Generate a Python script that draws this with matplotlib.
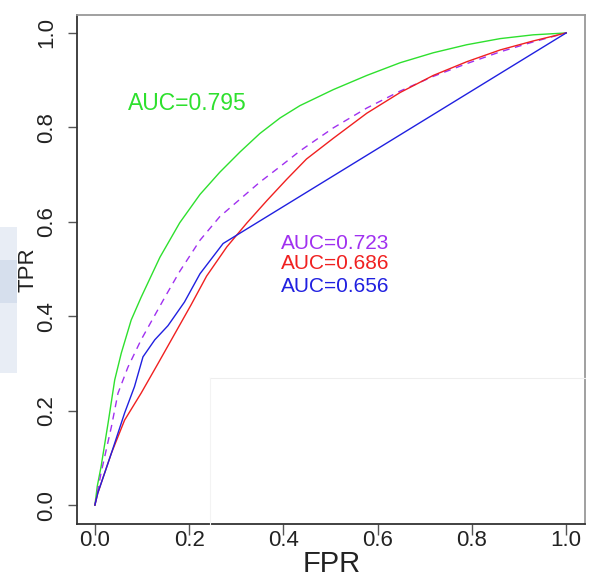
import matplotlib
matplotlib.use('Agg')
import matplotlib.pyplot as plt
from matplotlib.lines import Line2D
from matplotlib.patches import Rectangle

plt.rcParams['font.family'] = ['Liberation Sans', 'DejaVu Sans']

# ROC curves
green_fpr = [0, 0.005, 0.013, 0.028, 0.042, 0.056, 0.077, 0.098, 0.138, 0.18, 0.223, 0.265, 0.308,
             0.35, 0.393, 0.435, 0.506, 0.577, 0.648, 0.718, 0.789, 0.86, 0.93, 1.0]
green_tpr = [0, 0.04, 0.081, 0.174, 0.265, 0.322, 0.392, 0.440, 0.525, 0.598, 0.658, 0.705, 0.748,
             0.787, 0.82, 0.846, 0.880, 0.910, 0.937, 0.958, 0.975, 0.988, 0.996, 1.0]

purple_fpr = [0, 0.013, 0.035, 0.049, 0.07, 0.098, 0.127, 0.15, 0.18, 0.223, 0.265, 0.308, 0.35,
              0.393, 0.435, 0.506, 0.577, 0.648, 0.718, 0.789, 0.86, 0.93, 1.0]
purple_tpr = [0, 0.068, 0.166, 0.237, 0.292, 0.35, 0.402, 0.443, 0.495, 0.561, 0.611, 0.648, 0.684,
              0.717, 0.750, 0.799, 0.841, 0.877, 0.908, 0.935, 0.96, 0.981, 1.0]

red_fpr = [0, 0.006, 0.035, 0.063, 0.098, 0.134, 0.169, 0.204, 0.237, 0.28, 0.322, 0.365, 0.407,
           0.449, 0.506, 0.577, 0.648, 0.718, 0.789, 0.86, 0.93, 1.0]
red_tpr = [0, 0.025, 0.11, 0.18, 0.237, 0.300, 0.362, 0.424, 0.485, 0.547, 0.597, 0.645, 0.690,
           0.733, 0.777, 0.830, 0.874, 0.910, 0.939, 0.964, 0.983, 1.0]

blue_fpr = [0, 0.006, 0.035, 0.063, 0.084, 0.102, 0.127, 0.155, 0.19, 0.223, 0.272, 1.0]
blue_tpr = [0, 0.025, 0.11, 0.195, 0.251, 0.314, 0.35, 0.38, 0.43, 0.49, 0.554, 1.0]

auc_labels = ['AUC=0.795', 'AUC=0.723', 'AUC=0.686', 'AUC=0.656']
ticks = [0.0, 0.2, 0.4, 0.6, 0.8, 1.0]
tick_labels = ['0.0', '0.2', '0.4', '0.6', '0.8', '1.0']

c_green = '#2ee02e'
c_purple = '#a030f0'
c_red = '#f02020'
c_blue = '#2020e0'

fig = plt.figure(figsize=(5.89, 5.77), dpi=100)
W, H = 589, 577

# faint watermark on the left edge
fig.patches.append(Rectangle((0, 1 - 373 / H), 17 / W, 146 / H, transform=fig.transFigure,
                             facecolor='#e8edf5', edgecolor='none', zorder=0))
fig.patches.append(Rectangle((0, 1 - 303 / H), 17 / W, 43 / H, transform=fig.transFigure,
                             facecolor='#d6dfed', edgecolor='none', zorder=0))

ax = fig.add_axes([77 / W, 1 - 524 / H, 508 / W, 509 / H])
ax.set_xlim(-0.038, 1.040)
ax.set_ylim(-0.040, 1.038)

ax.plot(green_fpr, green_tpr, color=c_green, lw=1.0)
ax.plot(purple_fpr, purple_tpr, color=c_purple, lw=1.0, dashes=(5, 4))
ax.plot(red_fpr, red_tpr, color=c_red, lw=1.0)
ax.plot(blue_fpr, blue_tpr, color=c_blue, lw=1.0)

ax.text(0.070, 0.850, auc_labels[0], color=c_green, fontsize=16.5, va='center', ha='left')
ax.text(0.395, 0.555, auc_labels[1], color=c_purple, fontsize=15, va='center', ha='left')
ax.text(0.395, 0.511, auc_labels[2], color=c_red, fontsize=15, va='center', ha='left')
ax.text(0.395, 0.462, auc_labels[3], color=c_blue, fontsize=15, va='center', ha='left')

ax.set_xticks(ticks)
ax.set_xticklabels(tick_labels, fontsize=16, color='#222222')
ax.set_yticks(ticks)
ax.set_yticklabels(tick_labels, fontsize=16, color='#222222', rotation=90, va='center')
ax.tick_params(axis='x', length=8, width=1.0, pad=-4, color='#555555')
ax.tick_params(axis='y', length=6.5, width=1.0, pad=8, color='#555555')

for s in ['left', 'bottom']:
    ax.spines[s].set_color('#333333')
    ax.spines[s].set_linewidth(1.3)
for s in ['top', 'right']:
    ax.spines[s].set_color('#999999')
    ax.spines[s].set_linewidth(1.3)

# faint box edges left over in the picture
fig.add_artist(Line2D([210 / W, 585 / W], [1 - 378 / H, 1 - 378 / H], color='#eeeeee', lw=0.8))
fig.add_artist(Line2D([210 / W, 210 / W], [1 - 378 / H, 1 - 524 / H], color='#f3f3f3', lw=0.8))

fig.text(332 / W, 1 - 564 / H, 'FPR', fontsize=21, ha='center', va='center', color='#222222')
fig.text(27.5 / W, 1 - 270 / H, 'TPR', fontsize=16, ha='center', va='center', rotation=90, color='#222222')

fig.savefig('out.png', dpi=100)
